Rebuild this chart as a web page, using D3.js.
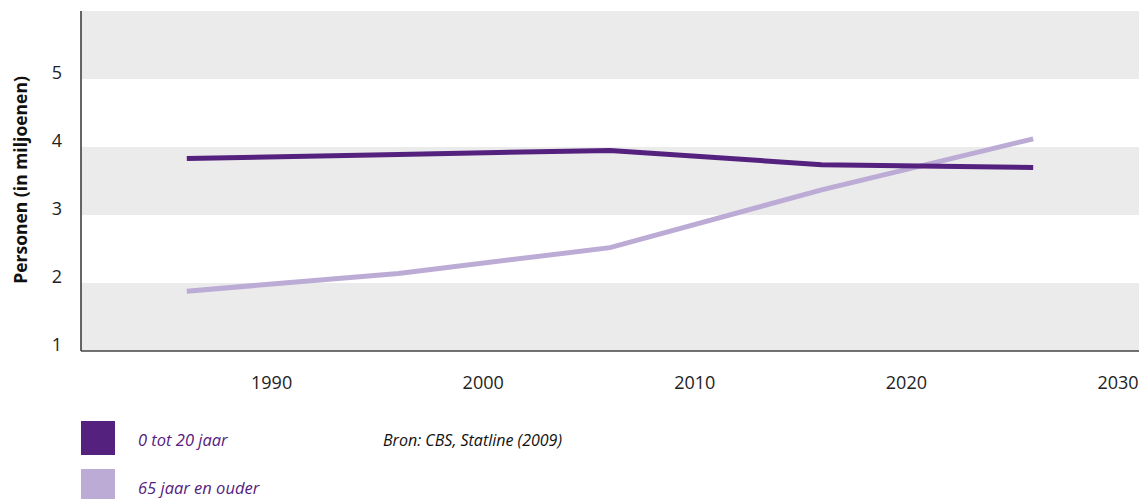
<!DOCTYPE html>
<html>
<head>
<meta charset="utf-8">
<script src="https://cdn.jsdelivr.net/npm/d3@7"></script>
<style>
  body { margin: 0; background: #fff; }
  svg { display: block; font-family: "Open Sans", sans-serif; }
</style>
</head>
<body>
<div id="chart"></div>
<script>
// data
const years = [1985, 1995, 2005, 2015, 2025]
const young = [3.83, 3.89, 3.95, 3.74, 3.70]      // 0 tot 20 jaar
const old = [1.88, 2.14, 2.52, 3.37, 4.12]        // 65 jaar en ouder
const xTicks = [1990, 2000, 2010, 2020, 2030]
const yTicks = [1, 2, 3, 4, 5]
const bands = [[1, 2], [3, 4], [5, 6]]
const seriesNames = ["0 tot 20 jaar", "65 jaar en ouder"]
const source = "Bron: CBS, Statline (2009)"

const DARK = "#55217f"
const LIGHT = "#bcabd5"

const width = 1141, height = 499
const margin = { left: 81, right: 2, top: 11, bottom: 148 }

const svg = d3.select("#chart").append("svg")
  .attr("width", width)
  .attr("height", height)

const x = d3.scaleLinear().domain([1980, 2030]).range([margin.left, width - margin.right])
const y = d3.scaleLinear().domain([1, 6]).range([height - margin.bottom, margin.top])

// grey bands
svg.append("g").selectAll("rect")
  .data(bands)
  .join("rect")
  .attr("x", x(1980))
  .attr("width", x(2030) - x(1980))
  .attr("y", d => y(d[1]))
  .attr("height", d => y(d[0]) - y(d[1]))
  .attr("fill", "#ebebeb")

// axes lines
svg.append("line")
  .attr("x1", x(1980)).attr("x2", x(1980))
  .attr("y1", y(6)).attr("y2", y(1))
  .attr("stroke", "#333").attr("stroke-width", 1.5)
svg.append("line")
  .attr("x1", x(1980)).attr("x2", x(2030))
  .attr("y1", y(1)).attr("y2", y(1))
  .attr("stroke", "#444").attr("stroke-width", 1.5)

// y tick labels
svg.append("g").selectAll("text")
  .data(yTicks)
  .join("text")
  .attr("x", 57)
  .attr("y", d => y(d))
  .attr("text-anchor", "middle")
  .attr("font-size", 18)
  .attr("fill", "#222")
  .text(d => d)

// x tick labels (set a little left of the tick)
svg.append("g").selectAll("text")
  .data(xTicks)
  .join("text")
  .attr("x", d => x(d) - 21)
  .attr("y", y(1) + 38)
  .attr("text-anchor", "middle")
  .attr("font-size", 18)
  .attr("fill", "#222")
  .text(d => d)

// y title
svg.append("text")
  .attr("transform", `translate(27,180) rotate(-90)`)
  .attr("text-anchor", "middle")
  .attr("font-size", 17.5)
  .attr("font-weight", "bold")
  .attr("fill", "#111")
  .text("Personen (in miljoenen)")

// lines
const line = d3.line()
  .x((d, i) => x(years[i]))
  .y(d => y(d))

svg.append("path")
  .datum(old)
  .attr("d", line)
  .attr("fill", "none")
  .attr("stroke", LIGHT)
  .attr("stroke-width", 5)

svg.append("path")
  .datum(young)
  .attr("d", line)
  .attr("fill", "none")
  .attr("stroke", DARK)
  .attr("stroke-width", 5)

// legend
const legend = svg.append("g").selectAll("g")
  .data(seriesNames)
  .join("g")
  .attr("transform", (d, i) => `translate(81,${421 + i * 48})`)

legend.append("rect")
  .attr("width", 34)
  .attr("height", 34)
  .attr("fill", (d, i) => i === 0 ? DARK : LIGHT)

legend.append("text")
  .attr("x", 57)
  .attr("y", 25)
  .attr("font-size", 16.5)
  .attr("font-style", "italic")
  .attr("fill", DARK)
  .text(d => d)

svg.append("text")
  .attr("x", 383)
  .attr("y", 446)
  .attr("font-size", 16)
  .attr("font-style", "italic")
  .attr("fill", "#111")
  .text(source)
</script>
</body>
</html>
